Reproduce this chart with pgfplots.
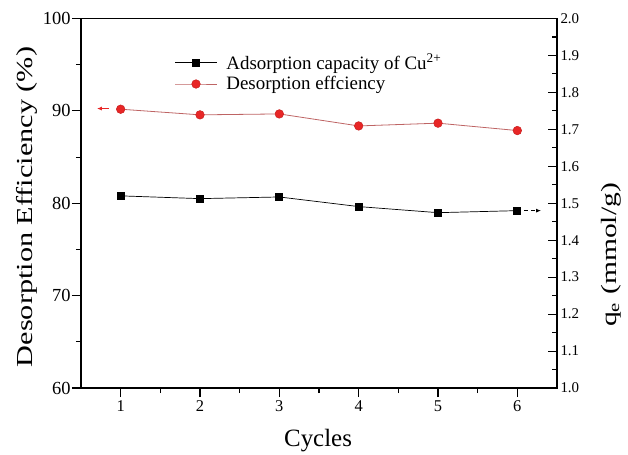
\documentclass[border=0pt]{standalone}
\usepackage{pgfplots}
\pgfplotsset{compat=1.18}
\usepackage{graphicx}
\usepackage{fontspec}
\setmainfont{Liberation Serif}
\usetikzlibrary{arrows.meta}

\definecolor{dotred}{RGB}{232,38,38}
\definecolor{dotedge}{RGB}{200,30,30}
\definecolor{linered}{RGB}{190,100,100}

\begin{document}
\begin{tikzpicture}
\pgfplotsset{
  every axis/.append style={
    scale only axis,
    width=476bp, height=369.5bp,
    xmin=0.5, xmax=6.5,
    axis line style={line width=1.2bp},
    every tick/.style={black, line width=1.1bp},
    major tick length=9bp, minor tick length=5bp,
    /pgf/number format/assume math mode=true,
  }
}
% left axis: desorption efficiency
\begin{axis}[
  ymin=60, ymax=100,
  ytick={60,70,...,100}, minor y tick num=1,
  xtick={1,...,6}, minor x tick num=1,
  xtick pos=bottom, ytick pos=left,
  tick align=outside,
  yticklabel style={font=\fontsize{18.5}{20}\selectfont, xshift=2bp},
  xticklabel style={font=\fontsize{16.5}{18}\selectfont},
  xlabel={Cycles},
  xlabel style={font=\fontsize{25}{27}\selectfont,
    at={(axis description cs:0.498,-0.157)}, anchor=base},
  ylabel={\scalebox{1.32}[1]{Desorption Efficiency (\%)}},
  ylabel style={font=\fontsize{23}{25}\selectfont,
    at={(axis description cs:-0.113,0.49)}, anchor=center},
]
\addplot[linered, line width=0.8bp, mark=*, mark size=4.3bp,
  mark options={fill=dotred, draw=dotedge, line width=0.5bp}]
  coordinates {(1,90.18) (2,89.57) (3,89.67) (4,88.37) (5,88.67) (6,87.87)};
\draw[dotred, line width=1bp, -{Latex[length=5bp,width=4bp]}]
  (axis cs:0.856,90.25) -- (axis cs:0.70,90.25);
\end{axis}
% right axis: adsorption capacity
\begin{axis}[
  ymin=1.0, ymax=2.0,
  ytick={1.0,1.1,...,2.01}, minor y tick num=1,
  yticklabel style={font=\fontsize{15}{17}\selectfont,
    /pgf/number format/.cd, fixed, fixed zerofill, precision=1},
  axis y line*=right, axis x line=none,
  tick align=inside,
  ylabel={\scalebox{1.35}[1]{q\textsubscript{e} (mmol/g)}},
  ylabel style={font=\fontsize{22}{24}\selectfont,
    at={(axis description cs:1.113,0.36)}, anchor=center},
  legend style={draw=none, fill=none, at={(0.19,0.915)}, anchor=north west,
    font=\fontsize{19}{21}\selectfont, row sep=2bp,
    /tikz/every odd column/.append style={column sep=7bp}},
  legend cell align=left,
  legend image code/.code={\draw[mark repeat=2,mark phase=2]
    plot coordinates {(0bp,0bp) (21bp,0bp) (42bp,0bp)};},
]
\addplot[black, line width=0.7bp, mark=square*, mark size=3.5bp,
  mark options={fill=black}]
  coordinates {(1,1.520) (2,1.5125) (3,1.517) (4,1.491) (5,1.4745) (6,1.480)};
\addlegendentry{Adsorption capacity of Cu\textsuperscript{2+}}
\addlegendimage{linered, line width=0.8bp, mark=*, mark size=4.3bp,
  mark options={fill=dotred, draw=dotedge, line width=0.5bp}}
\addlegendentry{Desorption effciency}
\draw[black, line width=1bp, dash pattern=on 4bp off 3bp, -{Latex[length=5bp,width=4bp]}]
  (axis cs:6.09,1.48) -- (axis cs:6.30,1.48);
\end{axis}
\path (-81bp,-64bp) rectangle (547bp,388bp);
\end{tikzpicture}
\end{document}
